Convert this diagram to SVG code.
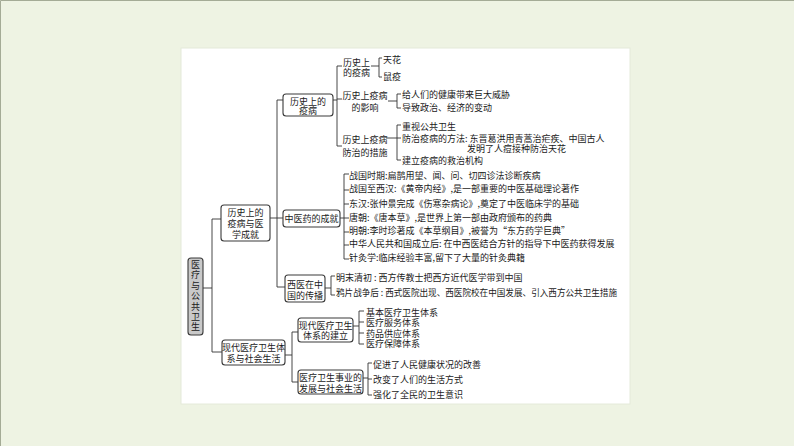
<svg xmlns="http://www.w3.org/2000/svg" width="794" height="446" viewBox="0 0 794 446">
<style>
text{font-family:"Noto Sans CJK SC","Noto Sans",sans-serif;font-size:9px;fill:#1a1a1a;dominant-baseline:central}
.m{text-anchor:middle}
.box{fill:#fff;stroke:#3a3a3a;stroke-width:1.1}
.root{fill:#c9c9c9;stroke:#3a3a3a;stroke-width:1.1}
.ln{fill:none;stroke:#333;stroke-width:0.9}
</style>
<rect x="0" y="0" width="794" height="446" fill="#eef3e3"/>
<path d="M0.5 446V0.5H794" fill="none" stroke="#a4ab96" stroke-width="1"/>
<rect x="181" y="48" width="449" height="356" fill="#fff" stroke="#e4eada" stroke-width="1"/>

<g id="connectors" class="ln">
<path d="M203 288H212M212 219V352M212 219H221M212 352H222"/>
<path d="M270 218H283M277 100V287M277 100H283M277 287H285"/>
<path d="M285 355H292M292 332V382M292 332H298M292 382H298"/>
<path d="M333 100H337M337 66V146M337 66H342M337 99H342M337 146H342"/>
<path d="M371 66H379M382 58H379V77H382"/>
<path d="M388 101H397M401 94H397V108H401"/>
<path d="M386 138H397M401 125H397V160H401M397 138H401"/>
<path d="M340 218H344M344 174V259M344 174H349M344 190H349M344 204H349M344 218H349M344 232H349M344 245H349M344 259H349"/>
<path d="M325 288H331M335 276H331V295H335"/>
<path d="M353 326H359M359 311V344M359 311H364M359 322H364M359 333H364M359 344H364"/>
<path d="M363 378H368M368 363V395M368 363H372M368 379H372M368 395H372"/>
</g>

<g id="root">
<rect class="root" x="188" y="258" width="15" height="77" rx="3"/>
<text x="195.5" y="296.5" style="writing-mode:vertical-rl;text-anchor:middle;letter-spacing:1.4px;dominant-baseline:auto">医疗与公共卫生</text>
</g>

<g id="n1">
<rect class="box" x="221" y="205" width="49" height="36" rx="3"/>
<text class="m"><tspan x="245.5" y="211.5">历史上的</tspan><tspan x="245.5" y="222.5">疫病与医</tspan><tspan x="245.5" y="233.5">学成就</tspan></text>
</g>

<g id="n2">
<rect class="box" x="222" y="340" width="63" height="25" rx="3"/>
<text class="m"><tspan x="253.5" y="347">现代医疗卫生体</tspan><tspan x="253.5" y="358">系与社会生活</tspan></text>
</g>

<g id="n11">
<rect class="box" x="283" y="94" width="50" height="22" rx="3"/>
<text class="m"><tspan x="308" y="100.5">历史上的</tspan><tspan x="308" y="110">疫病</tspan></text>
</g>

<g id="n12">
<rect class="box" x="283" y="210" width="57" height="17" rx="3"/>
<text class="m" x="311.5" y="218.5">中医药的成就</text>
</g>

<g id="n13">
<rect class="box" x="285" y="275" width="40" height="27" rx="3"/>
<text class="m"><tspan x="305" y="284">西医在中</tspan><tspan x="305" y="294.5">国的传播</tspan></text>
</g>

<g id="n21">
<rect class="box" x="298" y="318" width="55" height="24" rx="3"/>
<text class="m"><tspan x="325.5" y="325">现代医疗卫生</tspan><tspan x="325.5" y="335">体系的建立</tspan></text>
</g>

<g id="n22">
<rect class="box" x="298" y="370" width="65" height="24" rx="3"/>
<text class="m"><tspan x="330.5" y="377">医疗卫生事业的</tspan><tspan x="330.5" y="387.5">发展与社会生活</tspan></text>
</g>

<g id="l-epidemics">
<text><tspan x="343" y="62">历史上</tspan><tspan x="343" y="72">的疫病</tspan></text>
<text><tspan x="383" y="59">天花</tspan><tspan x="383" y="76">鼠疫</tspan></text>
</g>

<g id="l-impact">
<text class="m"><tspan x="365" y="95">历史上疫病</tspan><tspan x="365" y="107">的影响</tspan></text>
<text><tspan x="402" y="94">给人们的健康带来巨大威胁</tspan><tspan x="402" y="107">导致政治、经济的变动</tspan></text>
</g>

<g id="l-measures">
<text class="m"><tspan x="365" y="139">历史上疫病</tspan><tspan x="365" y="152">防治的措施</tspan></text>
<text><tspan x="402" y="126">重视公共卫生</tspan><tspan x="402" y="138">防治疫病的方法: 东晋葛洪用青蒿治疟疾、中国古人</tspan><tspan x="467" y="148">发明了人痘接种防治天花</tspan><tspan x="402" y="160">建立疫病的救治机构</tspan></text>
</g>

<g id="l-tcm">
<text x="349" y="175">战国时期:扁鹊用望、闻、问、切四诊法诊断疾病</text>
<text x="349" y="188">战国至西汉:《黄帝内经》,是一部重要的中医基础理论著作</text>
<text x="349" y="203">东汉:张仲景完成《伤寒杂病论》,奠定了中医临床学的基础</text>
<text x="349" y="217">唐朝:《唐本草》,是世界上第一部由政府颁布的药典</text>
<text x="349" y="230">明朝:李时珍著成《本草纲目》,被誉为“东方药学巨典”</text>
<text x="349" y="243">中华人民共和国成立后: 在中西医结合方针的指导下中医药获得发展</text>
<text x="349" y="257">针灸学:临床经验丰富,留下了大量的针灸典籍</text>
</g>

<g id="l-west">
<text x="336" y="277">明末清初 : 西方传教士把西方近代医学带到中国</text>
<text x="336" y="292" textLength="281" lengthAdjust="spacingAndGlyphs">鸦片战争后 : 西式医院出现、西医院校在中国发展、引入西方公共卫生措施</text>
</g>

<g id="l-system">
<text><tspan x="366" y="312">基本医疗卫生体系</tspan><tspan x="366" y="322">医疗服务体系</tspan><tspan x="366" y="333">药品供应体系</tspan><tspan x="366" y="343">医疗保障体系</tspan></text>
</g>

<g id="l-dev">
<text x="373" y="364">促进了人民健康状况的改善</text>
<text x="373" y="379">改变了人们的生活方式</text>
<text x="373" y="394">强化了全民的卫生意识</text>
</g>
</svg>
